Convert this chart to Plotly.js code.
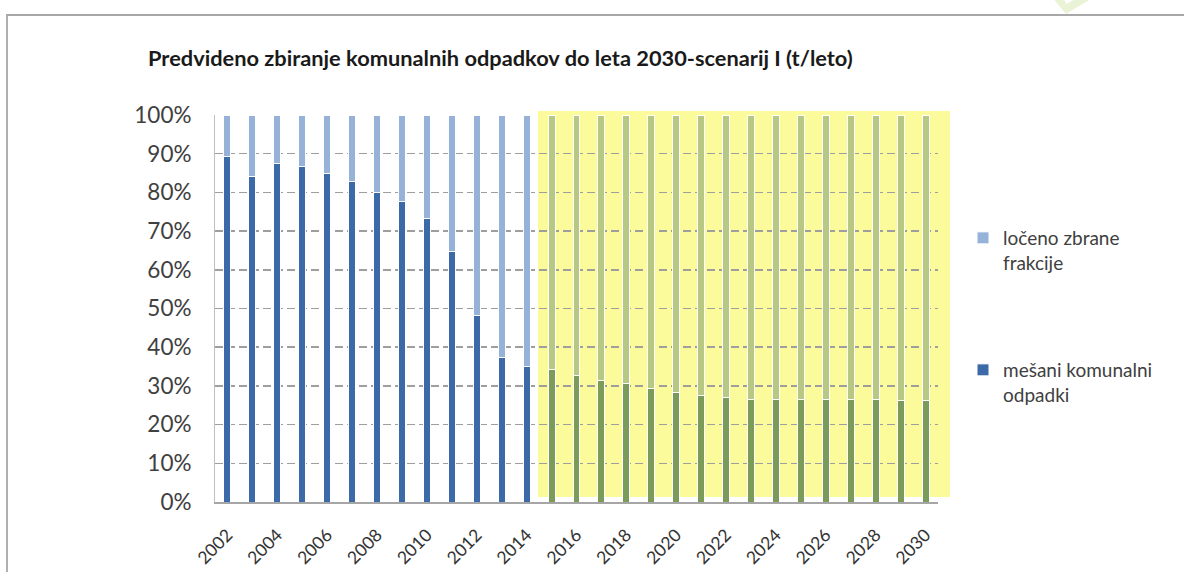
<!DOCTYPE html>
<html>
<head>
<meta charset="utf-8">
<script src="https://cdn.plot.ly/plotly-3.0.1.min.js"></script>
<style>
  html, body { margin: 0; padding: 0; background: #ffffff; }
  #wrap { position: relative; width: 1184px; height: 572px; overflow: hidden; }
  #chart { position: absolute; left: 0; top: 0; width: 1184px; height: 572px; }
  #frame { position: absolute; left: 6px; top: 14px; width: 1200px; height: 600px;
           border-top: 2px solid #a8a8a8; border-left: 2px solid #b0b0b0; pointer-events: none; }
  #mark { position: absolute; left: 1036px; top: -10px; pointer-events: none; }
</style>
</head>
<body>
<div id="wrap">
  <div id="chart"></div>
  <div id="frame"></div>
  <svg id="mark" width="80" height="30"><path d="M10,0 L30,24 L70,0 L56,0 L30,14 L24,0 Z" fill="#e6f0cc" opacity="0.8"/></svg>
</div>
<script>
// Years (categories)
const years = ['2002','2003','2004','2005','2006','2007','2008','2009','2010','2011','2012','2013','2014','2015','2016','2017','2018','2019','2020','2021','2022','2023','2024','2025','2026','2027','2028','2029','2030'];
// Share of mixed municipal waste (%)
const mesani = [89.4, 84.2, 87.5, 86.6, 84.9, 82.9, 79.9, 77.6, 73.3, 64.7, 48.1, 37.3, 34.9, 34.2, 32.8, 31.5, 30.6, 29.3, 28.4, 27.6, 27.0, 26.6, 26.6, 26.6, 26.6, 26.6, 26.6, 26.3, 26.3];
// Share of separately collected fractions (%)
const loceno = [10.6, 15.8, 12.5, 13.4, 15.1, 17.1, 20.1, 22.4, 26.7, 35.3, 51.9, 62.7, 65.1, 65.8, 67.2, 68.5, 69.4, 70.7, 71.6, 72.4, 73.0, 73.4, 73.4, 73.4, 73.4, 73.4, 73.4, 73.7, 73.7];
const yTicks = [0,10,20,30,40,50,60,70,80,90,100];
const yTickText = ['0%','10%','20%','30%','40%','50%','60%','70%','80%','90%','100%'];
const xTicks = ['2002','2004','2006','2008','2010','2012','2014','2016','2018','2020','2022','2024','2026','2028','2030'];
const firstScenarioYear = '2015';

const darkBlue = '#3c6aa8', lightBlue = '#96b2d9';
const darkGreen = '#7b9b5a', lightGreen = '#b6c883';
const cut = years.indexOf(firstScenarioYear);
const darkCols = years.map((y,i) => i < cut ? darkBlue : darkGreen);
const lightCols = years.map((y,i) => i < cut ? lightBlue : lightGreen);

const font = 'Lato, "Noto Sans", sans-serif';

const traces = [
  { type: 'bar', name: 'mešani komunalni<br>odpadki', x: years, y: mesani,
    marker: { color: darkCols, line: { color: '#ffffff', width: 1 } }, legend: 'legend2', hoverinfo: 'x+y' },
  { type: 'bar', name: 'ločeno zbrane<br>frakcije', x: years, y: loceno,
    marker: { color: lightCols, line: { color: '#ffffff', width: 1 } }, legend: 'legend', hoverinfo: 'x+y' }
];

const layout = {
  width: 1184, height: 572,
  margin: { l: 215, r: 246, t: 115, b: 70 },
  paper_bgcolor: '#ffffff', plot_bgcolor: 'rgba(0,0,0,0)',
  barmode: 'stack', bargap: 0.72,
  font: { family: font, color: '#404040' },
  title: { text: '<b>Predvideno zbiranje komunalnih odpadkov do leta 2030-scenarij I (t/leto)</b>',
           font: { family: font, size: 21.8, color: '#1a1a1a' },
           x: 148/1184, xanchor: 'left', xref: 'container', y: 1 - 58/572, yanchor: 'middle', yref: 'container' },
  xaxis: { type: 'category', range: [-0.5, 28.5], tickmode: 'array', tickvals: xTicks, ticktext: xTicks,
           tickangle: -45, tickfont: { size: 17.5, color: '#333333', family: font }, ticklabelstandoff: 14,
           showline: true, linecolor: '#a6a6a6', linewidth: 2, showgrid: false, ticks: '', zeroline: false },
  yaxis: { range: [0, 100], tickmode: 'array', tickvals: yTicks, ticktext: yTickText,
           tickfont: { size: 22.5, color: '#404040', family: font }, ticklabelstandoff: 18,
           showline: true, linecolor: '#c0c0c0', linewidth: 1,
           showgrid: true, gridcolor: '#9e9e9e', griddash: '8px,4px', gridwidth: 1.5, zeroline: false, ticks: '' },
  shapes: [
    { type: 'rect', layer: 'below', xref: 'paper', yref: 'paper',
      x0: (538-215)/723, x1: (950-215)/723, y0: 5/387, y1: 391/387,
      fillcolor: '#fbfb9c', line: { width: 0 } }
  ],
  legend: { x: (963-215)/723, xanchor: 'left', y: (502-219)/387, yanchor: 'top', valign: 'top',
            bgcolor: 'rgba(0,0,0,0)', font: { size: 19, color: '#404040', family: font } },
  legend2: { x: (963-215)/723, xanchor: 'left', y: (502-351)/387, yanchor: 'top', valign: 'top',
            bgcolor: 'rgba(0,0,0,0)', font: { size: 19, color: '#404040', family: font } },
  showlegend: true
};

Plotly.newPlot('chart', traces, layout, { displayModeBar: false, staticPlot: true });
</script>
</body>
</html>
